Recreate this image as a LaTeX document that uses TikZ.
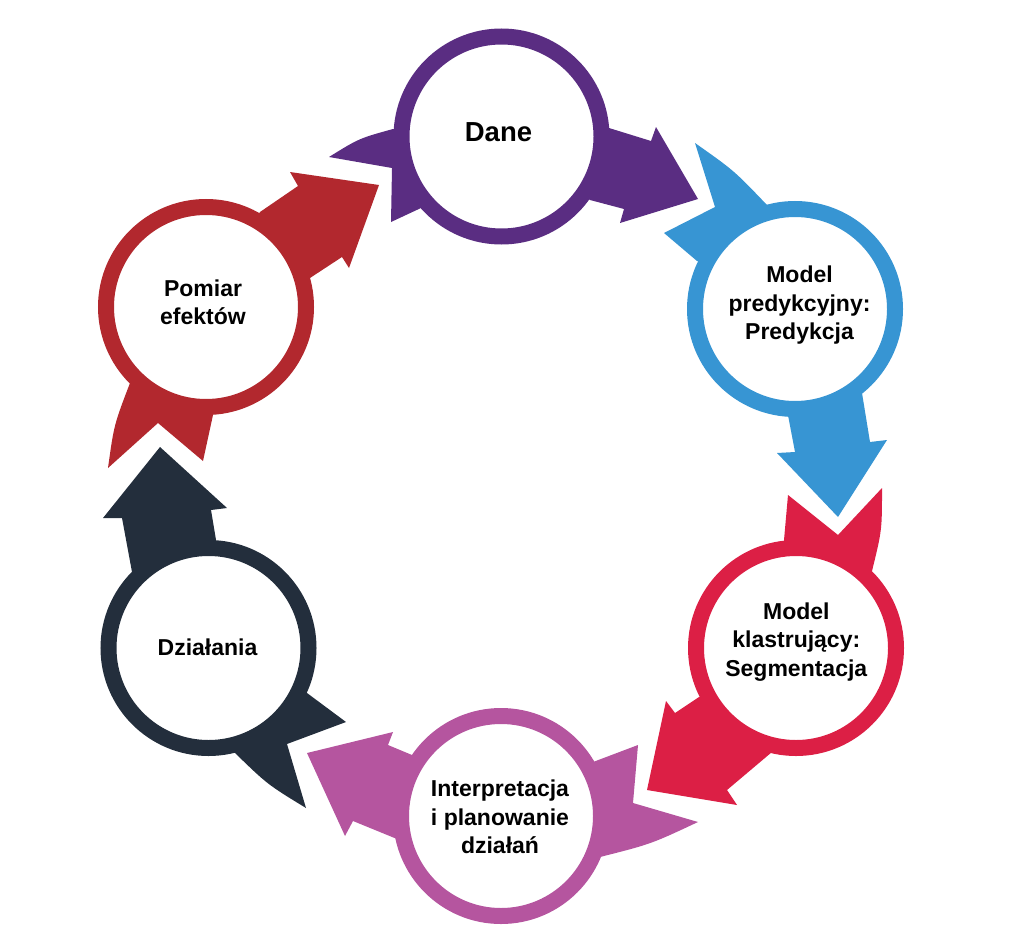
\documentclass[tikz,border=0pt]{standalone}
\usepackage{fontspec}
\setmainfont{Liberation Sans}
\usetikzlibrary{backgrounds}
\definecolor{cpurple}{HTML}{5A2D82}
\definecolor{cblue}{HTML}{3795D3}
\definecolor{ccrimson}{HTML}{DC1F45}
\definecolor{cmagenta}{HTML}{B5559F}
\definecolor{cnavy}{HTML}{232E3C}
\definecolor{cred}{HTML}{B2282E}
\begin{document}
\begin{tikzpicture}[x=1pt,y=-1pt,
  ring/.style={circle, draw=#1, line width=16pt, fill=white, minimum size=200pt, inner sep=0pt},
  lbl/.style={font=\bfseries\fontsize{23}{28.5}\selectfont, inner sep=0pt, anchor=base, text=black},
  big/.style={font=\bfseries\fontsize{27.5}{33}\selectfont}]
\useasboundingbox (0,0) rectangle (1024,947);
% rings
\node[ring=cpurple]  (dane)   at (501.5,136.5) {};
\node[ring=cblue]    (pred)   at (795,309) {};
\node[ring=ccrimson] (klast)  at (796,648) {};
\node[ring=cmagenta] (interp) at (501,816) {};
\node[ring=cnavy]    (dzial)  at (208.5,648) {};
\node[ring=cred]     (pomiar) at (206,307) {};
% labels
\node[lbl,big] (daneT) at (498.5,141.7) {Dane};
\node[lbl] (predT) at (799.5,282.7) {\begin{tabular}[t]{@{}c@{}}Model\\predykcyjny:\\Predykcja\end{tabular}};
\node[lbl] (klastT) at (796.3,619.3) {\begin{tabular}[t]{@{}c@{}}Model\\klastrujący:\\Segmentacja\end{tabular}};
\node[lbl] (interpT) at (500,796.7) {\begin{tabular}[t]{@{}c@{}}Interpretacja\\i planowanie\\działań\end{tabular}};
\node[lbl] (dzialT) at (207.5,655) {Działania};
\node[lbl] (pomiarT) at (203,296) {\begin{tabular}[t]{@{}c@{}}Pomiar\\efektów\end{tabular}};
\begin{pgfonlayer}{background}
% Dane
\fill[cpurple] (609,128) -- (651,141) -- (656,127) -- (698,199) -- (620,223) -- (624,209) -- (590,200) -- (dane.center) -- cycle;
\fill[cpurple] (421,208) -- (391,222) -- (392,168) -- (329,157) .. controls (359,138.4) .. (393,129) -- (dane.center) -- cycle;
% Model predykcyjny
\fill[cblue] (787,410) -- (795,452) -- (777,453) -- (838,517) -- (887,440) -- (870,442) -- (862,393) -- (pred.center) -- cycle;
\fill[cblue] (697,261) -- (664,233) -- (715,207) -- (695,143) .. controls (734,170.5) .. (767,205) -- (pred.center) -- cycle;
% Model klastrujacy
\fill[ccrimson] (772,752) -- (727,790) -- (737,805) -- (647,790) -- (666,701) -- (675,713) -- (699,697) -- (klast.center) -- cycle;
\fill[ccrimson] (784,540) -- (788,495) -- (838,535) -- (882,488) .. controls (882,530.2) .. (872,571) -- (klast.center) -- cycle;
% Interpretacja
\fill[cmagenta] (412,755) -- (388,745) -- (393,732) -- (307,753) -- (345,836) -- (353,821) -- (397,839) -- (interp.center) -- cycle;
\fill[cmagenta] (593,762) -- (638,745) -- (633,803) -- (698,822) .. controls (650.9,844.1) .. (600,857) -- (interp.center) -- cycle;
% Dzialania
\fill[cnavy] (132,572) -- (122,518) -- (103,518) -- (160,447) -- (227,508) -- (211,510) -- (216,540) -- (dzial.center) -- cycle;
\fill[cnavy] (307,693) -- (346,722) -- (287,744) -- (306,808) .. controls (267.5,784.5) .. (235,753) -- (dzial.center) -- cycle;
% Pomiar
\fill[cred] (260,212) -- (298,186) -- (290,172) -- (379,185) -- (349,268) -- (342,257) -- (310,278) -- (pomiar.center) -- cycle;
\fill[cred] (213,415) -- (203,461) -- (158,423) -- (108,468) .. controls (114,424.8) .. (130,383) -- (pomiar.center) -- cycle;
\end{pgfonlayer}
\end{tikzpicture}
\end{document}
